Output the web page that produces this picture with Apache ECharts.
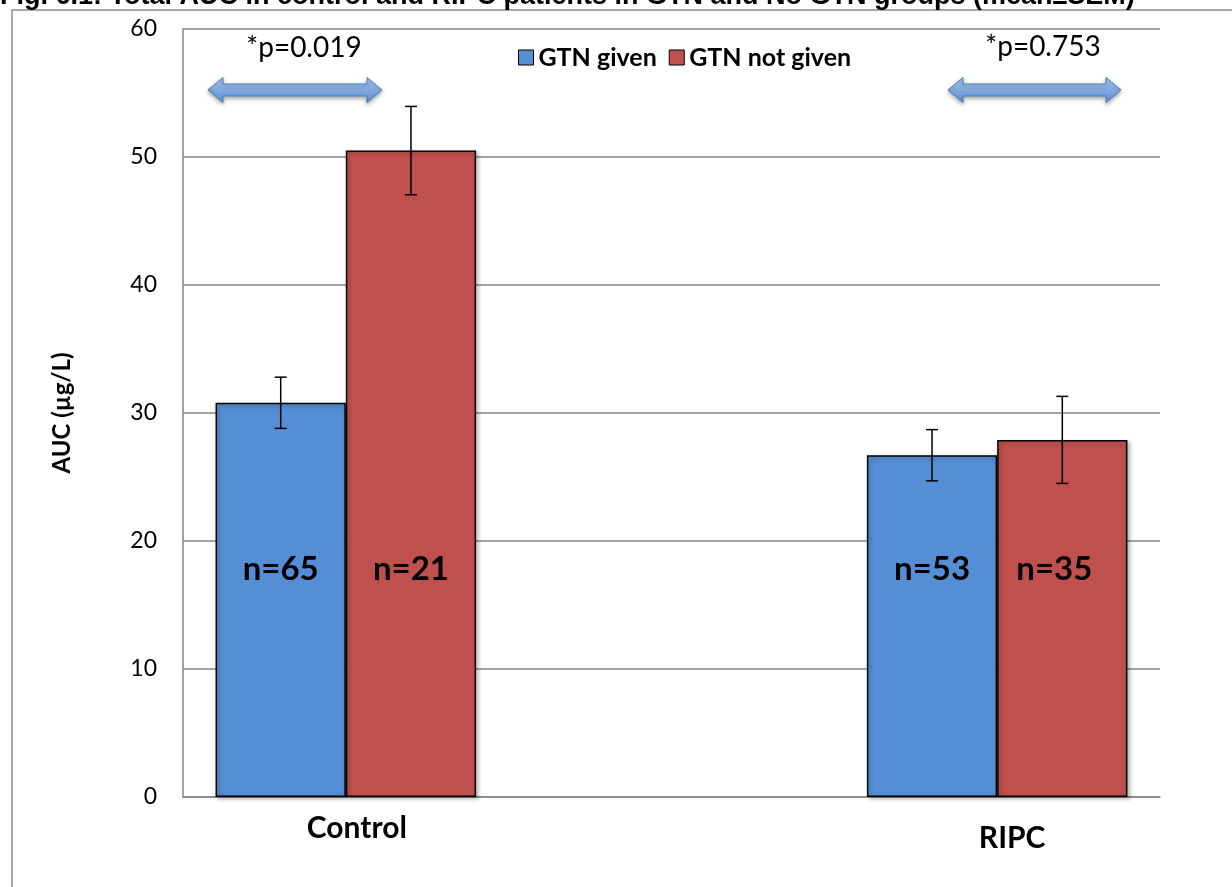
<!DOCTYPE html>
<html>
<head>
<meta charset="utf-8">
<script src="https://cdn.jsdelivr.net/npm/echarts@6/dist/echarts.min.js"></script>
<style>html,body{margin:0;padding:0;background:#fff}#c{width:1232px;height:887px}</style>
</head>
<body>
<div id="c"></div>
<script>
const categories = ['Control', '', 'RIPC'];
const seriesNames = ['GTN given', 'GTN not given'];
const gtnGiven = [30.8, null, 26.7];
const gtnNotGiven = [50.5, null, 27.9];
const semGiven = [2.0, null, 2.0];
const semNotGiven = [3.45, null, 3.4];
const nGiven = ['n=65', '', 'n=53'];
const nNotGiven = ['n=21', '', 'n=35'];
const yTicks = [0, 10, 20, 30, 40, 50, 60];
const pLabels = ['*p=0.019', '*p=0.753'];
const titleText = 'Fig. 6.1: Total AUC in control and RIPC patients in GTN and No GTN groups (mean\u00B1SEM)';

const FONT = 'Lato';
const chart = echarts.init(document.getElementById('c'), null, {renderer: 'canvas'});

const errData = [];
categories.forEach((c, i) => {
  if (gtnGiven[i] != null) errData.push([i, gtnGiven[i], semGiven[i], -1]);
  if (gtnNotGiven[i] != null) errData.push([i, gtnNotGiven[i], semNotGiven[i], 1]);
});

function arrowPoints(x0, x1, yc) {
  const hl = 15, hh = 12.5, sh = 6;
  return [[x0, yc], [x0 + hl, yc - hh], [x0 + hl, yc - sh], [x1 - hl, yc - sh], [x1 - hl, yc - hh],
          [x1, yc], [x1 - hl, yc + hh], [x1 - hl, yc + sh], [x0 + hl, yc + sh], [x0 + hl, yc + hh]];
}
const arrowStyle = {
  fill: new echarts.graphic.LinearGradient(0, 0, 0, 1, [
    {offset: 0, color: '#acc8ee'}, {offset: 0.5, color: '#82aae1'}, {offset: 1, color: '#5e8ed2'}]),
  stroke: '#4a7ebb', lineWidth: 1,
  shadowBlur: 4, shadowColor: 'rgba(0,0,0,0.35)', shadowOffsetY: 2
};

const barItem = (color) => ({
  color: color, borderColor: '#000', borderWidth: 1.5,
  shadowBlur: 4, shadowColor: 'rgba(0,0,0,0.3)', shadowOffsetX: 2, shadowOffsetY: 2
});
const nLabel = (arr) => ({
  show: true, position: 'insideBottom', distance: 210,
  formatter: p => arr[p.dataIndex],
  fontFamily: FONT, fontWeight: 'bold', fontSize: 33, color: '#000', lineHeight: 36
});
const notGivenData = gtnNotGiven.map((v, i) => ({value: v, label: {offset: categories[i] === 'RIPC' ? [-8, 0] : [0, 0]}}));

chart.setOption({
  animation: false,
  backgroundColor: '#fff',
  textStyle: {fontFamily: FONT},
  grid: {left: 183, right: 72, top: 29, bottom: 90, containLabel: false},
  legend: {
    data: seriesNames, left: 513, top: 40, itemWidth: 15, itemHeight: 15, itemGap: 12,
    icon: 'rect',
    textStyle: {fontFamily: FONT, fontWeight: 'bold', fontSize: 25, color: '#000'},
    itemStyle: {borderColor: '#000', borderWidth: 1}
  },
  xAxis: {
    type: 'category', data: categories,
    axisLine: {show: true, lineStyle: {color: '#868686', width: 1.5}},
    axisTick: {show: false},
    axisLabel: {
      margin: 13, interval: 0,
      formatter: v => v === 'Control' ? '{a|' + v + '}' : (v === 'RIPC' ? '{b|' + v + '}' : ''),
      rich: {
        a: {fontFamily: FONT, fontWeight: 'bold', fontSize: 30, color: '#000', lineHeight: 36, padding: [0, 0, 0, 22]},
        b: {fontFamily: FONT, fontWeight: 'bold', fontSize: 30, color: '#000', lineHeight: 36, padding: [20, 0, 0, 30]}
      }
    },
    splitLine: {show: false}
  },
  yAxis: {
    type: 'value', min: yTicks[0], max: yTicks[yTicks.length - 1], interval: 10,
    name: 'AUC (\u00B5g/L)', nameLocation: 'middle', nameGap: 109, nameRotate: 90,
    nameTextStyle: {fontFamily: FONT, fontWeight: 'bold', fontSize: 24, color: '#000'},
    axisLine: {show: true, lineStyle: {color: '#868686', width: 1.5}},
    axisTick: {show: false},
    axisLabel: {margin: 26, fontFamily: FONT, fontSize: 23, color: '#000'},
    splitLine: {lineStyle: {color: '#868686', width: 1.5}}
  },
  series: [
    {name: seriesNames[0], type: 'bar', data: gtnGiven, barWidth: '40%', barGap: '0%',
     itemStyle: barItem('#558ed5'), label: nLabel(nGiven), z: 2},
    {name: seriesNames[1], type: 'bar', data: notGivenData, barWidth: '40%', barGap: '0%',
     itemStyle: barItem('#c0504d'), label: nLabel(nNotGiven), z: 2},
    {type: 'custom', data: errData, z: 5, silent: true,
     renderItem: function (params, api) {
       const cat = api.value(0), v = api.value(1), e = api.value(2), s = api.value(3);
       const band = api.size([1, 0])[0];
       const hi = api.coord([cat, v + e]), lo = api.coord([cat, v - e]);
       const x = hi[0] + s * band * 0.2;
       const cap = 6;
       const st = {stroke: '#000', lineWidth: 1.5};
       return {type: 'group', children: [
         {type: 'line', shape: {x1: x, y1: hi[1], x2: x, y2: lo[1]}, style: st},
         {type: 'line', shape: {x1: x - cap, y1: hi[1], x2: x + cap, y2: hi[1]}, style: st},
         {type: 'line', shape: {x1: x - cap, y1: lo[1], x2: x + cap, y2: lo[1]}, style: st}
       ]};
     }}
  ],
  graphic: [
    {type: 'rect', shape: {x: 12, y: 10, width: 1400, height: 1000}, style: {fill: 'none', stroke: '#8c8c8c', lineWidth: 1.5}, z: 0},
    {type: 'text', x: 0, y: -3, style: {text: titleText, fontFamily: 'Liberation Sans', fontWeight: 'bold', fontSize: 27, fill: '#000', verticalAlign: 'middle'}},
    {type: 'polygon', shape: {points: arrowPoints(208, 382, 90)}, style: arrowStyle},
    {type: 'polygon', shape: {points: arrowPoints(948, 1121, 90)}, style: arrowStyle},
    {type: 'text', x: 304, y: 48, style: {text: pLabels[0], fontFamily: FONT, fontSize: 28, fill: '#000', align: 'center', verticalAlign: 'middle'}},
    {type: 'text', x: 1043, y: 47, style: {text: pLabels[1], fontFamily: FONT, fontSize: 28, fill: '#000', align: 'center', verticalAlign: 'middle'}}
  ]
});
</script>
</body>
</html>
